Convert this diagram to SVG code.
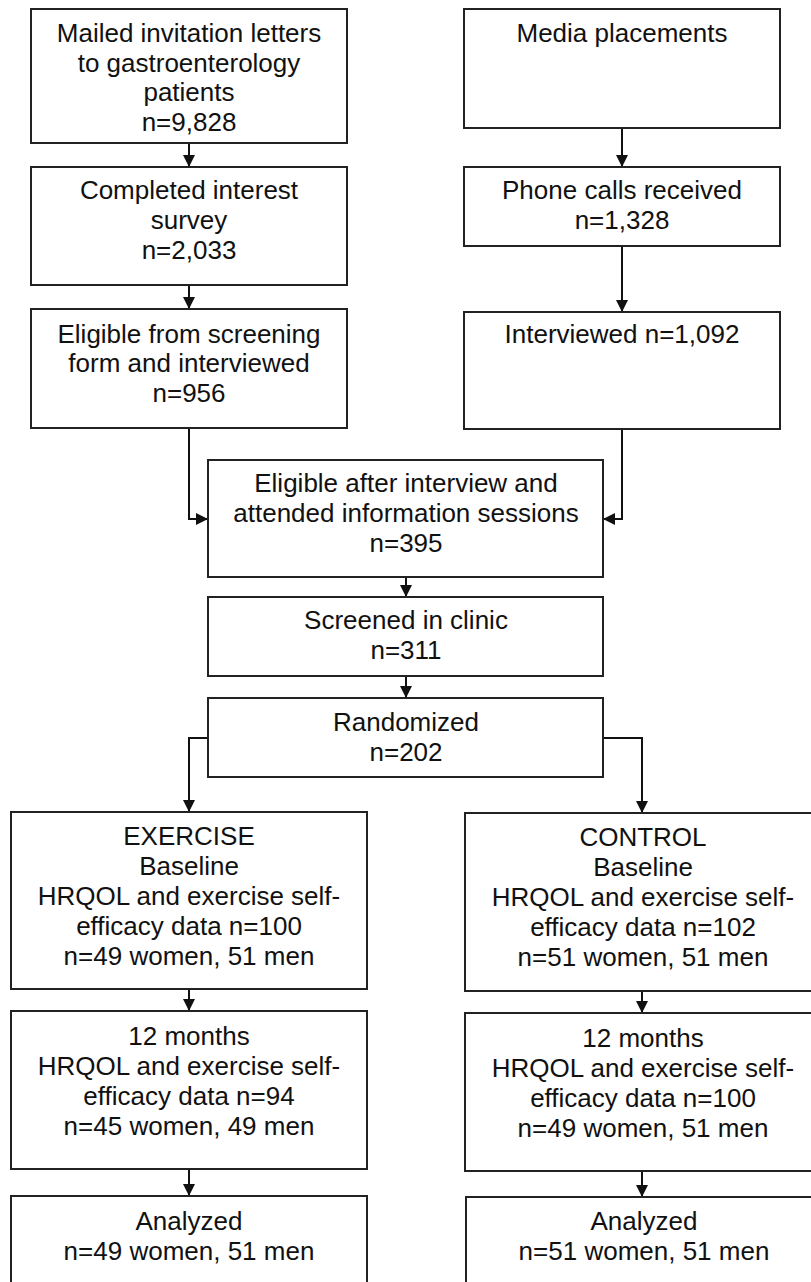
<svg xmlns="http://www.w3.org/2000/svg" width="811" height="1282" viewBox="0 0 811 1282">
<style>
.box{fill:#fff;stroke:#222;stroke-width:2}
.t{font-family:"Liberation Sans",Arial,sans-serif;font-size:26px;fill:#111;text-anchor:middle}
.c{fill:none;stroke:#111;stroke-width:2}
</style>
<defs>
<marker id="arr" markerUnits="userSpaceOnUse" markerWidth="13" markerHeight="13" refX="12" refY="6.5" orient="auto">
<path d="M0,0.5 L12,6.5 L0,12.5 z" fill="#111"/>
</marker>
</defs>
<rect width="811" height="1282" fill="#fff"/>
<g id="connectors">
<line class="c" x1="189" y1="143" x2="189" y2="167" marker-end="url(#arr)"/>
<line class="c" x1="189" y1="285" x2="189" y2="309" marker-end="url(#arr)"/>
<line class="c" x1="622" y1="128" x2="622" y2="167" marker-end="url(#arr)"/>
<line class="c" x1="622" y1="246" x2="622" y2="312" marker-end="url(#arr)"/>
<polyline class="c" points="189,428 189,519 208,519" marker-end="url(#arr)"/>
<polyline class="c" points="622,429 622,519 603,519" marker-end="url(#arr)"/>
<line class="c" x1="406" y1="577" x2="406" y2="597" marker-end="url(#arr)"/>
<line class="c" x1="406" y1="676" x2="406" y2="698" marker-end="url(#arr)"/>
<polyline class="c" points="208,738 189,738 189,812" marker-end="url(#arr)"/>
<polyline class="c" points="603,738 642,738 642,813" marker-end="url(#arr)"/>
<line class="c" x1="189" y1="989" x2="189" y2="1011" marker-end="url(#arr)"/>
<line class="c" x1="642" y1="991" x2="642" y2="1013" marker-end="url(#arr)"/>
<line class="c" x1="189" y1="1169" x2="189" y2="1196" marker-end="url(#arr)"/>
<line class="c" x1="642" y1="1171" x2="642" y2="1197" marker-end="url(#arr)"/>
</g>
<g id="mailed">
<rect class="box" x="31" y="9" width="316" height="134"/>
<text class="t" x="189" y="42">Mailed invitation letters</text>
<text class="t" x="189" y="72">to gastroenterology</text>
<text class="t" x="189" y="101">patients</text>
<text class="t" x="189" y="131">n=9,828</text>
</g>
<g id="survey">
<rect class="box" x="31" y="167" width="316" height="118"/>
<text class="t" x="189" y="199">Completed interest</text>
<text class="t" x="189" y="229">survey</text>
<text class="t" x="189" y="259">n=2,033</text>
</g>
<g id="eligible-screening">
<rect class="box" x="31" y="309" width="316" height="119"/>
<text class="t" x="189" y="343">Eligible from screening</text>
<text class="t" x="189" y="372">form and interviewed</text>
<text class="t" x="189" y="402">n=956</text>
</g>
<g id="media">
<rect class="box" x="464" y="9" width="316" height="119"/>
<text class="t" x="622" y="42">Media placements</text>
</g>
<g id="phone">
<rect class="box" x="464" y="167" width="316" height="79"/>
<text class="t" x="622" y="199">Phone calls received</text>
<text class="t" x="622" y="229">n=1,328</text>
</g>
<g id="interviewed">
<rect class="box" x="464" y="312" width="316" height="117"/>
<text class="t" x="622" y="343">Interviewed n=1,092</text>
</g>
<g id="eligible-after">
<rect class="box" x="208" y="460" width="395" height="117"/>
<text class="t" x="406" y="492">Eligible after interview and</text>
<text class="t" x="406" y="522">attended information sessions</text>
<text class="t" x="406" y="552">n=395</text>
</g>
<g id="screened">
<rect class="box" x="208" y="597" width="395" height="79"/>
<text class="t" x="406" y="629">Screened in clinic</text>
<text class="t" x="406" y="659">n=311</text>
</g>
<g id="randomized">
<rect class="box" x="208" y="698" width="395" height="79"/>
<text class="t" x="406" y="731">Randomized</text>
<text class="t" x="406" y="761">n=202</text>
</g>
<g id="exercise-baseline">
<rect class="box" x="11" y="812" width="356" height="177"/>
<text class="t" x="189" y="845">EXERCISE</text>
<text class="t" x="189" y="875">Baseline</text>
<text class="t" x="189" y="905">HRQOL and exercise self-</text>
<text class="t" x="189" y="935">efficacy data n=100</text>
<text class="t" x="189" y="965">n=49 women, 51 men</text>
</g>
<g id="exercise-12m">
<rect class="box" x="11" y="1011" width="356" height="158"/>
<text class="t" x="189" y="1045">12 months</text>
<text class="t" x="189" y="1075">HRQOL and exercise self-</text>
<text class="t" x="189" y="1105">efficacy data n=94</text>
<text class="t" x="189" y="1135">n=45 women, 49 men</text>
</g>
<g id="exercise-analyzed">
<rect class="box" x="11" y="1196" width="356" height="90"/>
<text class="t" x="189" y="1230">Analyzed</text>
<text class="t" x="189" y="1260">n=49 women, 51 men</text>
</g>
<g id="control-baseline">
<rect class="box" x="465" y="813" width="356" height="178"/>
<text class="t" x="643" y="846">CONTROL</text>
<text class="t" x="643" y="876">Baseline</text>
<text class="t" x="643" y="906">HRQOL and exercise self-</text>
<text class="t" x="643" y="936">efficacy data n=102</text>
<text class="t" x="643" y="966">n=51 women, 51 men</text>
</g>
<g id="control-12m">
<rect class="box" x="465" y="1013" width="356" height="158"/>
<text class="t" x="643" y="1047">12 months</text>
<text class="t" x="643" y="1077">HRQOL and exercise self-</text>
<text class="t" x="643" y="1107">efficacy data n=100</text>
<text class="t" x="643" y="1137">n=49 women, 51 men</text>
</g>
<g id="control-analyzed">
<rect class="box" x="466" y="1197" width="356" height="90"/>
<text class="t" x="644" y="1230">Analyzed</text>
<text class="t" x="644" y="1260">n=51 women, 51 men</text>
</g>
</svg>
